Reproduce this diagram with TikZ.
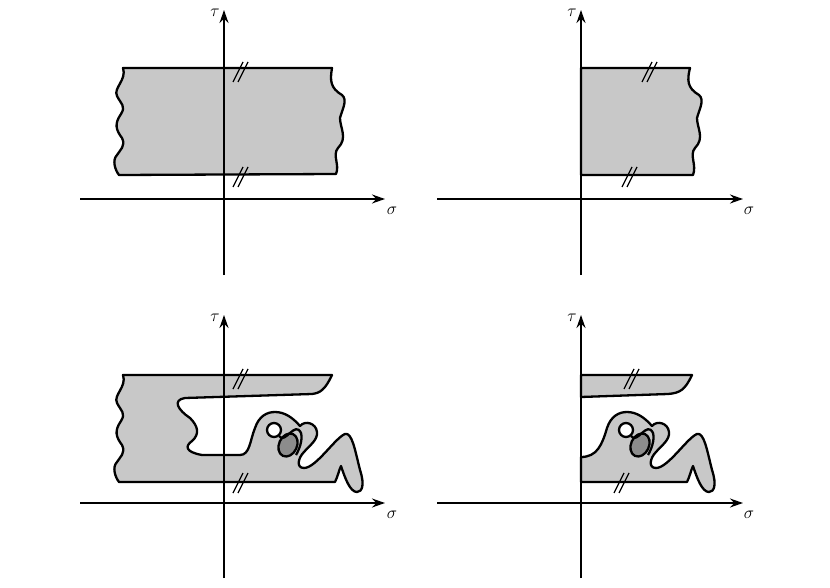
\documentclass[tikz,border=0pt]{standalone}
\usetikzlibrary{arrows.meta}
\definecolor{lg}{HTML}{C8C8C8}
\definecolor{dg}{HTML}{8C8C8C}
\tikzset{
  region/.style={fill=lg,draw=black,line width=2.3pt,line join=round},
  axis/.style={line width=1.6pt,-{Stealth[length=13pt,width=9pt]}},
  hatch/.style={line width=1.2pt},
  lab/.style={font=\fontsize{19}{19}\selectfont}
}
\newcommand{\hatchmark}[2]{%
  \draw[hatch] (#1-8,#2+12) -- (#1+2,#2-8);
  \draw[hatch] (#1-3,#2+12) -- (#1+7,#2-8);}
\newcommand{\lwave}[1]{%
  (123,#1+68) .. controls (127,#1+80) and (113,#1+88) .. (117,#1+96)
  .. controls (121,#1+104) and (126,#1+106) .. (121,#1+114)
  .. controls (114,#1+124) and (116,#1+130) .. (122,#1+138)
  .. controls (126,#1+146) and (120,#1+150) .. (117,#1+155)
  .. controls (112,#1+160) and (115,#1+170) .. (119,#1+175)}
\newcommand{\blobextra}{%
  \draw[line width=2.3pt,fill=dg] (288,445) ellipse [x radius=9pt,y radius=12pt,rotate=-25];
  \draw[line width=2.3pt,fill=white] (274,430) circle [radius=7pt];
  \draw[line width=2.3pt] (279,436) .. controls (285,445) and (295,420) .. (301,433)
    .. controls (303,440) and (299,450) .. (296,455);}
\begin{document}
\begin{tikzpicture}[x=1pt,y=-1pt]
\useasboundingbox (0,0) rectangle (830,588);
% ---------- top left
\filldraw[region] \lwave{0} -- (336,174)
  .. controls (340,165) and (332,155) .. (338,148)
  .. controls (348,138) and (340,128) .. (340,118)
  .. controls (342,110) and (348,100) .. (342,95)
  .. controls (330,88) and (330,80) .. (332,68) -- cycle;
\draw[axis] (80,199) -- (385,199);
\draw[axis] (224,275) -- (224,10);
\node[lab] (s1) at (392,211) {$\sigma$};
\node[lab] (t1) at (215,13) {$\tau$};
\hatchmark{241}{70}
\hatchmark{241}{175}
% ---------- top right
\filldraw[region] (581,68) -- (581,175) -- (693,175)
  .. controls (697,165) and (689,155) .. (695,148)
  .. controls (705,138) and (697,128) .. (697,118)
  .. controls (699,110) and (705,100) .. (699,95)
  .. controls (687,88) and (687,80) .. (690,68) -- cycle;
\draw[axis] (437,199) -- (743,199);
\draw[axis] (581,275) -- (581,10);
\node[lab] (s2) at (749,211) {$\sigma$};
\node[lab] (t2) at (572,13) {$\tau$};
\hatchmark{650}{70}
\hatchmark{630}{175}
% ---------- bottom left
\filldraw[region] \lwave{307} -- (335,482)
  .. controls (338,476) and (339,470) .. (341,466)
  .. controls (345,478) and (350,492) .. (357,492)
  .. controls (362,492) and (365,485) .. (360,470)
  .. controls (355,450) and (352,432) .. (345,434)
  .. controls (335,438) and (316,468) .. (304,468)
  .. controls (296,468) and (298,458) .. (304,452)
  .. controls (309,446) and (318,440) .. (317,432)
  .. controls (316,423) and (305,420) .. (300,426)
  .. controls (293,418) and (285,412) .. (275,412)
  .. controls (267,412) and (259,416) .. (255,428)
  .. controls (250,440) and (250,455) .. (240,455)
  -- (202,455)
  .. controls (185,452) and (185,446) .. (192,441)
  .. controls (200,434) and (198,426) .. (190,418)
  .. controls (178,410) and (172,400) .. (185,398)
  -- (312,394)
  .. controls (320,393) and (325,390) .. (332,375) -- cycle;
\blobextra
\draw[axis] (80,503) -- (385,503);
\draw[axis] (224,578) -- (224,315);
\node[lab] (s3) at (392,515) {$\sigma$};
\node[lab] (t3) at (215,318) {$\tau$};
\hatchmark{241}{377}
\hatchmark{241}{481}
% ---------- bottom right
\filldraw[region] (581,375) -- (692,375)
  .. controls (685,390) and (680,393) .. (668,394)
  -- (581,397) -- cycle;
\begin{scope}[xshift=352pt]
\filldraw[region] (229,482) -- (229,457)
  .. controls (245,457) and (250,445) .. (255,428)
  .. controls (259,416) and (267,412) .. (275,412)
  .. controls (285,412) and (293,418) .. (300,426)
  .. controls (305,420) and (316,423) .. (317,432)
  .. controls (318,440) and (309,446) .. (304,452)
  .. controls (298,458) and (296,468) .. (304,468)
  .. controls (316,468) and (335,438) .. (345,434)
  .. controls (352,432) and (355,450) .. (360,470)
  .. controls (365,485) and (362,492) .. (357,492)
  .. controls (350,492) and (345,478) .. (341,466)
  .. controls (339,470) and (338,476) .. (335,482) -- cycle;
\blobextra
\end{scope}
\draw[line width=2.3pt] (581,375) -- (581,482);
\draw[axis] (437,503) -- (743,503);
\draw[axis] (581,578) -- (581,315);
\node[lab] (s4) at (749,515) {$\sigma$};
\node[lab] (t4) at (572,318) {$\tau$};
\hatchmark{632}{377}
\hatchmark{622}{481}
\end{tikzpicture}
\end{document}
